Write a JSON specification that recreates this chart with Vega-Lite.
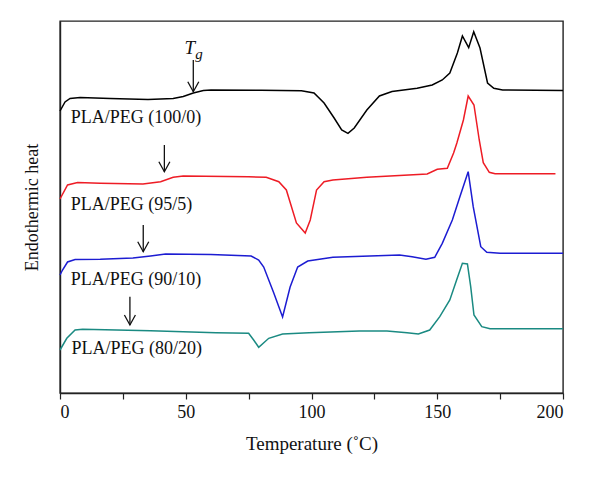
{
  "$schema": "https://vega.github.io/schema/vega-lite/v6.json",
  "width": 503,
  "height": 372,
  "autosize": {"type": "none"},
  "padding": {"left": 60, "top": 21, "right": 37, "bottom": 87},
  "config": {
    "font": "Liberation Serif",
    "view": {"stroke": "#222222", "strokeWidth": 1.4},
    "axis": {"domainColor": "#222222", "domainWidth": 1.4, "tickColor": "#222222", "tickWidth": 1.2, "grid": false, "labelFont": "Liberation Serif", "titleFont": "Liberation Serif", "labelColor": "#111111", "titleColor": "#111111", "titleFontWeight": "normal"}
  },
  "datasets": {
    "curves": [
      {"s": "100/0", "T": 0, "h": 282}, {"s": "100/0", "T": 2, "h": 291}, {"s": "100/0", "T": 4, "h": 294.5}, {"s": "100/0", "T": 8, "h": 295.5}, {"s": "100/0", "T": 20, "h": 294.5}, {"s": "100/0", "T": 35, "h": 293.5}, {"s": "100/0", "T": 45, "h": 294.5}, {"s": "100/0", "T": 49, "h": 296.5}, {"s": "100/0", "T": 53, "h": 300}, {"s": "100/0", "T": 57, "h": 302.5}, {"s": "100/0", "T": 60, "h": 303}, {"s": "100/0", "T": 80, "h": 302.7}, {"s": "100/0", "T": 96, "h": 302.3}, {"s": "100/0", "T": 101, "h": 300}, {"s": "100/0", "T": 105, "h": 290}, {"s": "100/0", "T": 109, "h": 275}, {"s": "100/0", "T": 112, "h": 263}, {"s": "100/0", "T": 114.5, "h": 259.7}, {"s": "100/0", "T": 117, "h": 265}, {"s": "100/0", "T": 122, "h": 283}, {"s": "100/0", "T": 127, "h": 297}, {"s": "100/0", "T": 132, "h": 301.5}, {"s": "100/0", "T": 142, "h": 304.7}, {"s": "100/0", "T": 148, "h": 308}, {"s": "100/0", "T": 152, "h": 313}, {"s": "100/0", "T": 155, "h": 320}, {"s": "100/0", "T": 158, "h": 340}, {"s": "100/0", "T": 160, "h": 357}, {"s": "100/0", "T": 162.5, "h": 345.3}, {"s": "100/0", "T": 164.5, "h": 361.3}, {"s": "100/0", "T": 167, "h": 345}, {"s": "100/0", "T": 170, "h": 310}, {"s": "100/0", "T": 172.5, "h": 304.7}, {"s": "100/0", "T": 176, "h": 303}, {"s": "100/0", "T": 200, "h": 302.5},
      {"s": "95/5", "T": 0, "h": 194}, {"s": "95/5", "T": 3, "h": 208}, {"s": "95/5", "T": 7, "h": 210.5}, {"s": "95/5", "T": 16, "h": 209.7}, {"s": "95/5", "T": 33, "h": 209}, {"s": "95/5", "T": 40, "h": 211.3}, {"s": "95/5", "T": 45, "h": 215.7}, {"s": "95/5", "T": 49, "h": 217}, {"s": "95/5", "T": 75, "h": 216.3}, {"s": "95/5", "T": 82, "h": 215.7}, {"s": "95/5", "T": 87, "h": 211.3}, {"s": "95/5", "T": 90, "h": 203}, {"s": "95/5", "T": 94, "h": 170}, {"s": "95/5", "T": 97.5, "h": 160}, {"s": "95/5", "T": 99.5, "h": 173}, {"s": "95/5", "T": 102, "h": 203}, {"s": "95/5", "T": 105, "h": 211.3}, {"s": "95/5", "T": 108.5, "h": 213}, {"s": "95/5", "T": 122, "h": 215.7}, {"s": "95/5", "T": 146, "h": 219}, {"s": "95/5", "T": 150, "h": 223.7}, {"s": "95/5", "T": 154, "h": 224.7}, {"s": "95/5", "T": 156.5, "h": 240}, {"s": "95/5", "T": 157.8, "h": 250}, {"s": "95/5", "T": 160.4, "h": 273}, {"s": "95/5", "T": 162.3, "h": 297}, {"s": "95/5", "T": 164.6, "h": 288}, {"s": "95/5", "T": 166.7, "h": 253}, {"s": "95/5", "T": 168.3, "h": 230.3}, {"s": "95/5", "T": 170.7, "h": 220.7}, {"s": "95/5", "T": 173, "h": 219.3}, {"s": "95/5", "T": 197, "h": 219.3},
      {"s": "90/10", "T": 0, "h": 118}, {"s": "90/10", "T": 1, "h": 123}, {"s": "90/10", "T": 3, "h": 131}, {"s": "90/10", "T": 6, "h": 133.5}, {"s": "90/10", "T": 16, "h": 133.7}, {"s": "90/10", "T": 29, "h": 135}, {"s": "90/10", "T": 36, "h": 137}, {"s": "90/10", "T": 42, "h": 139}, {"s": "90/10", "T": 60, "h": 138.5}, {"s": "90/10", "T": 76, "h": 137}, {"s": "90/10", "T": 79, "h": 133}, {"s": "90/10", "T": 81, "h": 126}, {"s": "90/10", "T": 85, "h": 100}, {"s": "90/10", "T": 88.5, "h": 76}, {"s": "90/10", "T": 91.5, "h": 106}, {"s": "90/10", "T": 94.5, "h": 126}, {"s": "90/10", "T": 98.5, "h": 132}, {"s": "90/10", "T": 108.5, "h": 135.7}, {"s": "90/10", "T": 135, "h": 138}, {"s": "90/10", "T": 140, "h": 136.3}, {"s": "90/10", "T": 145.5, "h": 133.7}, {"s": "90/10", "T": 149, "h": 135.7}, {"s": "90/10", "T": 152, "h": 149.7}, {"s": "90/10", "T": 156, "h": 173}, {"s": "90/10", "T": 159, "h": 196.3}, {"s": "90/10", "T": 162.3, "h": 221.3}, {"s": "90/10", "T": 164.3, "h": 186.3}, {"s": "90/10", "T": 167.3, "h": 146.3}, {"s": "90/10", "T": 169.7, "h": 140.7}, {"s": "90/10", "T": 175, "h": 139.7}, {"s": "90/10", "T": 200, "h": 139.7},
      {"s": "80/20", "T": 0, "h": 43}, {"s": "80/20", "T": 2.7, "h": 54.7}, {"s": "80/20", "T": 6, "h": 63}, {"s": "80/20", "T": 9, "h": 63.7}, {"s": "80/20", "T": 36, "h": 62.3}, {"s": "80/20", "T": 62, "h": 60.3}, {"s": "80/20", "T": 75, "h": 59.7}, {"s": "80/20", "T": 77, "h": 53}, {"s": "80/20", "T": 79, "h": 45.7}, {"s": "80/20", "T": 83, "h": 54.7}, {"s": "80/20", "T": 88.5, "h": 59}, {"s": "80/20", "T": 99, "h": 60.3}, {"s": "80/20", "T": 119, "h": 62}, {"s": "80/20", "T": 130, "h": 62}, {"s": "80/20", "T": 138, "h": 60.3}, {"s": "80/20", "T": 142.5, "h": 59}, {"s": "80/20", "T": 147, "h": 63}, {"s": "80/20", "T": 151, "h": 76.3}, {"s": "80/20", "T": 155, "h": 93}, {"s": "80/20", "T": 157.7, "h": 113}, {"s": "80/20", "T": 160, "h": 129.7}, {"s": "80/20", "T": 162, "h": 129}, {"s": "80/20", "T": 163.3, "h": 106.3}, {"s": "80/20", "T": 164.6, "h": 78}, {"s": "80/20", "T": 167.7, "h": 66.3}, {"s": "80/20", "T": 171, "h": 64.3}, {"s": "80/20", "T": 200, "h": 64.3}
    ],
    "labels": [
      {"T": 4.3, "h": 275, "text": "PLA/PEG (100/0)"},
      {"T": 4.3, "h": 188, "text": "PLA/PEG (95/5)"},
      {"T": 4.3, "h": 113, "text": "PLA/PEG (90/10)"},
      {"T": 4.6, "h": 44.5, "text": "PLA/PEG (80/20)"}
    ],
    "arrows": [
      {"T": 53, "h1": 333, "h2": 301.3},
      {"T": 41.5, "h1": 248, "h2": 221.3},
      {"T": 33.1, "h1": 168, "h2": 141.3},
      {"T": 27.8, "h1": 96.3, "h2": 68}
    ]
  },
  "layer": [
    {
      "data": {"name": "curves"},
      "mark": {"type": "line", "strokeWidth": 1.5},
      "encoding": {
        "x": {"field": "T", "type": "quantitative", "scale": {"domain": [0, 200], "nice": false},
              "axis": {"values": [0, 25, 50, 75, 100, 125, 150, 175, 200], "labelExpr": "datum.value % 50 === 0 ? datum.label : ''", "tickSize": 6, "labelFontSize": 18, "labelPadding": 4, "title": "Temperature (˚C)", "titleFontSize": 19, "titlePadding": 13}},
        "y": {"field": "h", "type": "quantitative", "scale": {"domain": [0, 372], "nice": false, "zero": false},
              "axis": {"ticks": false, "labels": false, "title": "Endothermic heat", "titleFontSize": 18, "titlePadding": 19}},
        "color": {"field": "s", "type": "nominal", "legend": null,
                  "scale": {"domain": ["100/0", "95/5", "90/10", "80/20"], "range": ["#000000", "#ee1c25", "#1c1cd2", "#1a8a82"]}},
        "detail": {"field": "s"}
      }
    },
    {
      "data": {"name": "labels"},
      "mark": {"type": "text", "align": "left", "baseline": "middle", "fontSize": 18, "color": "#111111"},
      "encoding": {
        "x": {"field": "T", "type": "quantitative"},
        "y": {"field": "h", "type": "quantitative"},
        "text": {"field": "text"}
      }
    },
    {
      "data": {"name": "arrows"},
      "mark": {"type": "rule", "color": "#111111", "strokeWidth": 1.3},
      "encoding": {
        "x": {"field": "T", "type": "quantitative"},
        "y": {"field": "h1", "type": "quantitative"},
        "y2": {"field": "h2"}
      }
    },
    {
      "data": {"name": "arrows"},
      "mark": {"type": "point", "shape": "M-0.55,-1L0,0L0.55,-1", "filled": false, "size": 400, "color": "#111111", "strokeWidth": 1.3, "opacity": 1},
      "encoding": {
        "x": {"field": "T", "type": "quantitative"},
        "y": {"field": "h2", "type": "quantitative"}
      }
    },
    {
      "data": {"values": [{"T": 51.6, "h": 345, "text": "T"}]},
      "mark": {"type": "text", "align": "center", "baseline": "middle", "fontSize": 19, "fontStyle": "italic", "color": "#111111"},
      "encoding": {
        "x": {"field": "T", "type": "quantitative"},
        "y": {"field": "h", "type": "quantitative"},
        "text": {"field": "text"}
      }
    },
    {
      "data": {"values": [{"T": 55.3, "h": 339, "text": "g"}]},
      "mark": {"type": "text", "align": "center", "baseline": "middle", "fontSize": 15, "fontStyle": "italic", "color": "#111111"},
      "encoding": {
        "x": {"field": "T", "type": "quantitative"},
        "y": {"field": "h", "type": "quantitative"},
        "text": {"field": "text"}
      }
    }
  ]
}
